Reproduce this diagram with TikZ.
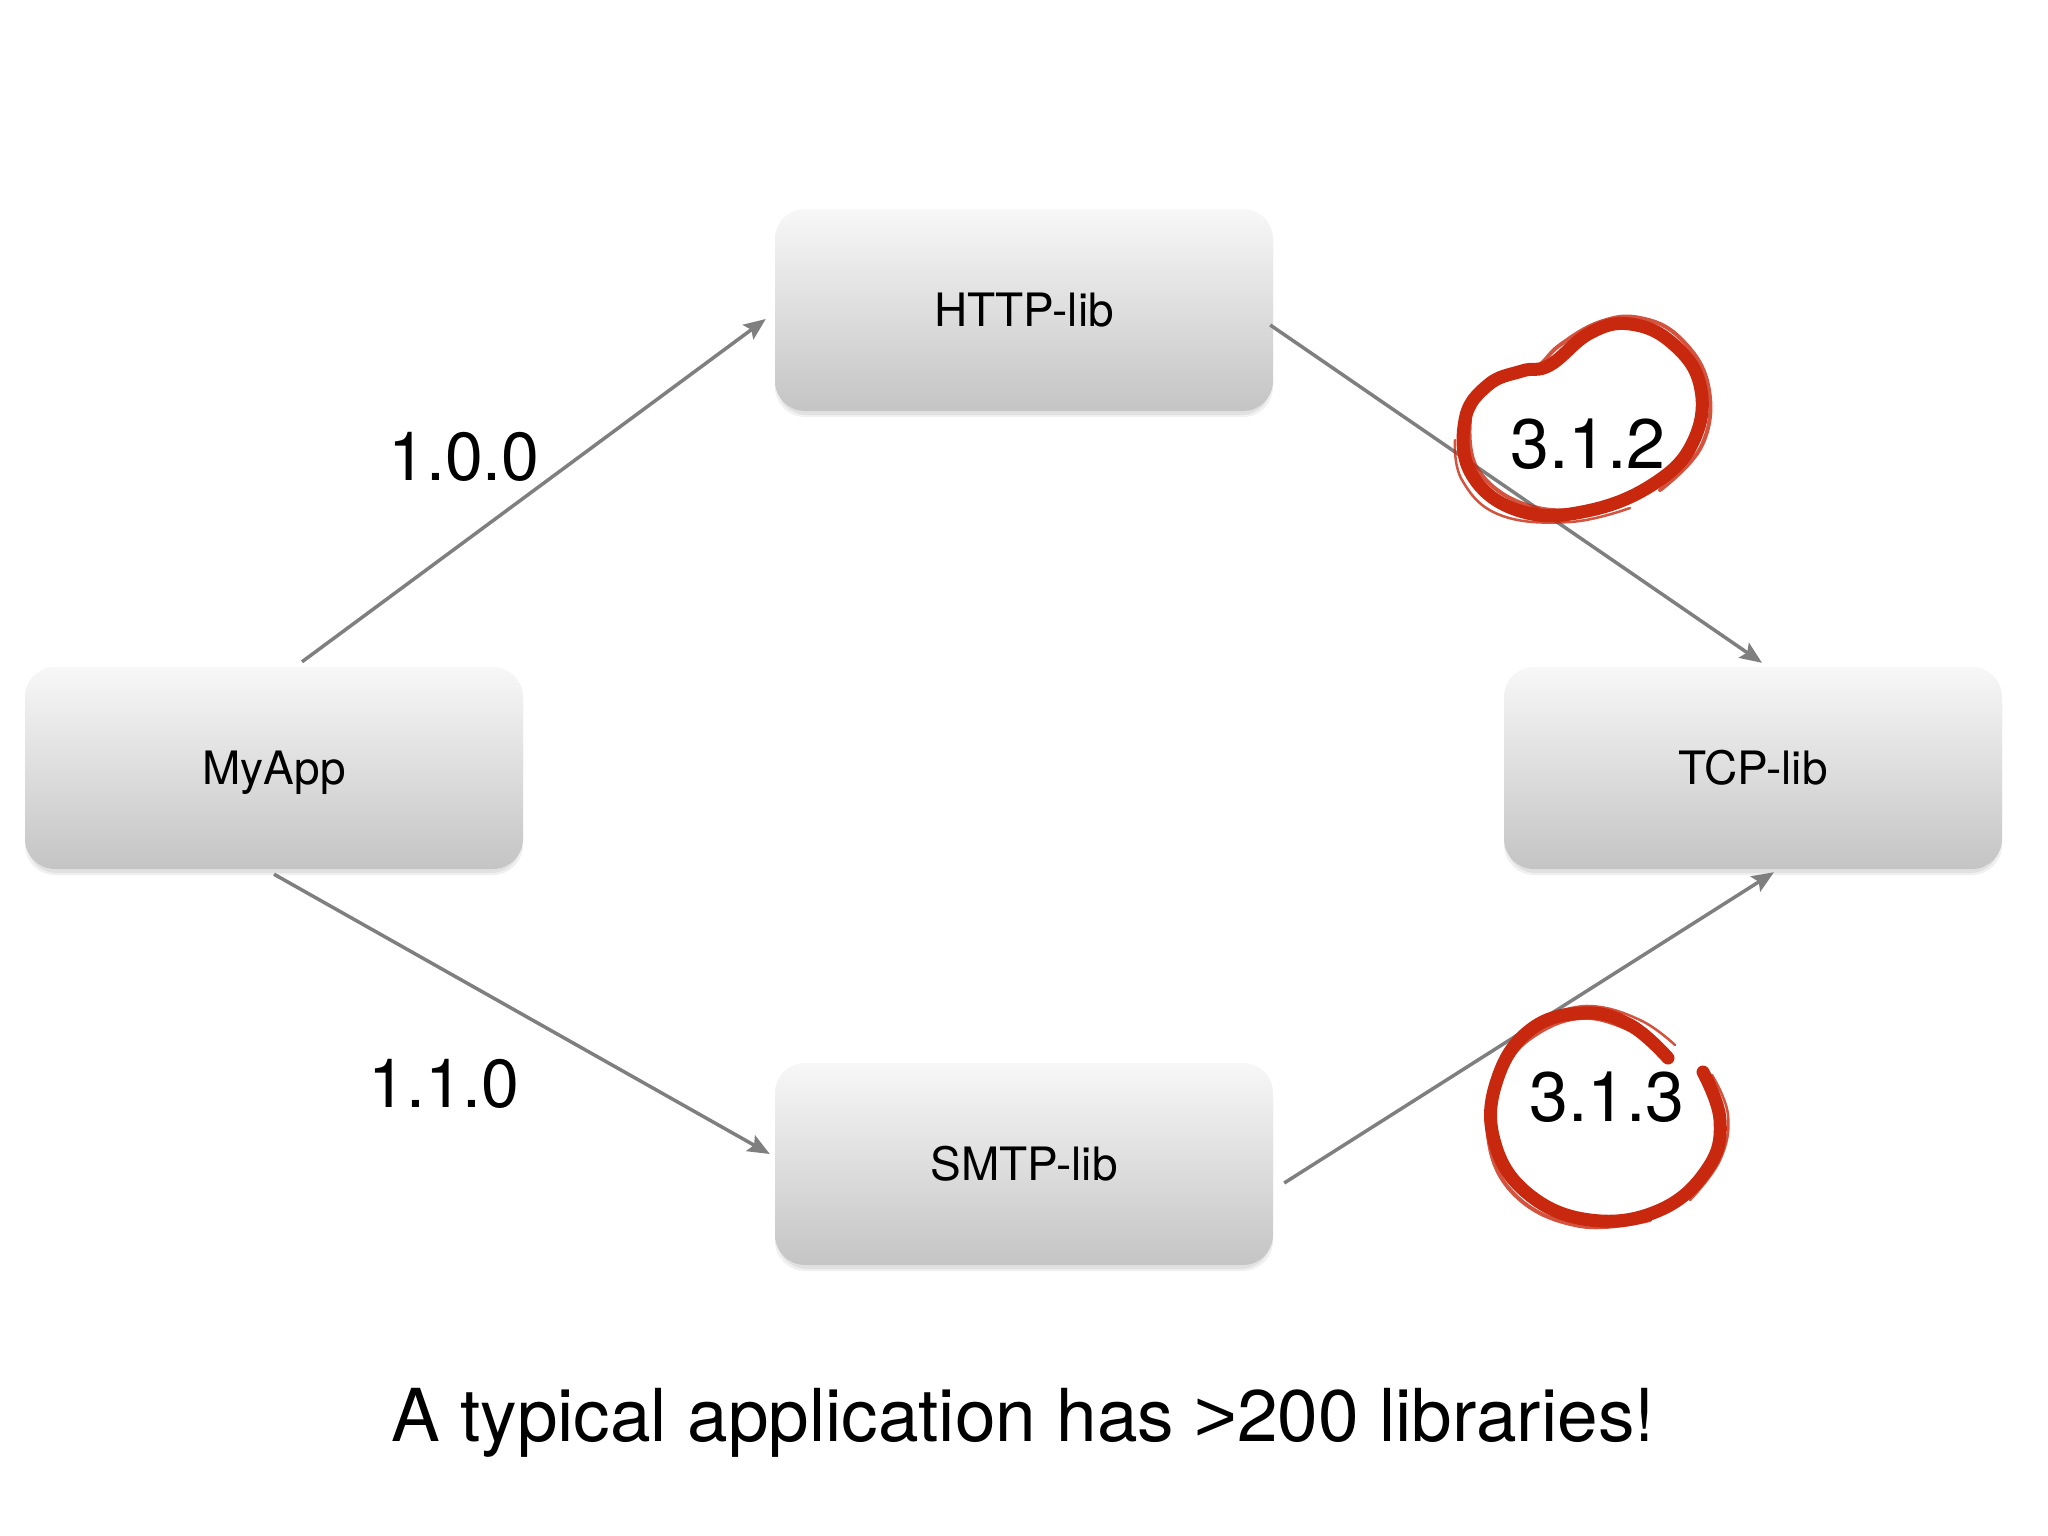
\documentclass[tikz,border=0pt]{standalone}
\usepackage{fontspec}
\setmainfont{TeX Gyre Heros}
\newfontfamily\gtfont{Liberation Sans}
\usetikzlibrary{arrows.meta}
\definecolor{brush}{HTML}{C8280E}
\definecolor{conn}{HTML}{7F7F7F}
\tikzset{
  libbox/.style={rectangle, rounded corners=30pt, minimum width=498pt, minimum height=202pt,
    top color=black!3, bottom color=black!23, draw=none, inner sep=0pt,
    text height=33pt, text depth=0pt,
    font=\fontsize{46}{55}\selectfont},
  boxshadow/.style={fill=black, opacity=0.06, rounded corners=30pt},
  conn/.style={draw=conn, line width=3.5pt, -{Stealth[length=22pt,width=18pt,inset=4pt]}},
  ver/.style={font=\fontsize{68}{80}\selectfont, inner sep=0pt},
  redver/.style={font=\fontsize{70}{82}\selectfont, inner sep=0pt},
  brushmain/.style={draw=brush, line width=13pt, line cap=round, line join=round},
  brushthin/.style={draw=brush, line width=4pt, line cap=round, opacity=0.8},
}
\begin{document}
\begin{tikzpicture}[x=1pt,y=-1pt]
\useasboundingbox[fill=white] (0,0) rectangle (2048,1536);
% shadows
\foreach \cx/\cy in {1024/310, 274/768, 1753/768, 1024/1164}{
  \fill[boxshadow] (\cx-249,\cy-97) rectangle (\cx+249,\cy+107);
  \fill[boxshadow] (\cx-247,\cy-97) rectangle (\cx+247,\cy+105);
}
\node[libbox] (http) at (1024,310) {HTTP-lib};
\node[libbox] (myapp) at (274,768) {MyApp};
\node[libbox] (tcp) at (1753,768) {TCP-lib};
\node[libbox] (smtp) at (1024,1164) {SMTP-lib};

\draw[conn] ([shift={(28,-5)}]myapp.north) -- ([shift={(-9,9)}]http.west);
\draw[conn] ([shift={(-3,15)}]http.east) -- ([shift={(9,-4)}]tcp.north);
\draw[conn] ([shift={(0,5)}]myapp.south) -- ([shift={(-5,-10)}]smtp.west);
\draw[conn] ([shift={(11,19)}]smtp.east) -- ([shift={(21,3)}]tcp.south);

\node[ver] (v100) at (464,457) {1.0.0};
\node[ver] (v110) at (444,1084) {1.1.0};

% red brush circles
\draw[brushmain] plot[smooth cycle, tension=0.7] coordinates {(1550,365) (1590,333) (1630,324) (1672,343) (1700,385) (1694,440) (1655,483) (1587,511) (1520,511) (1472,475) (1465,420) (1488,385) (1522,371)};
\draw[brushthin] plot[smooth, tension=0.7] coordinates {(1480,395) (1500,378) (1535,368) (1560,345) (1600,322) (1640,318) (1680,338) (1708,385) (1702,445) (1660,490)};
\draw[brushthin] plot[smooth, tension=0.7] coordinates {(1700,430) (1670,475) (1600,505) (1530,506) (1478,470) (1470,420)};
\draw[brushthin, line width=2.5pt] plot[smooth, tension=0.7] coordinates {(1455,440) (1462,480) (1500,515) (1570,522) (1630,508)};

\draw[brushmain] plot[smooth, tension=0.7] coordinates {(1668,1058) (1630,1025) (1583,1013) (1530,1030) (1497,1080) (1494,1140) (1527,1193) (1590,1220) (1660,1210) (1708,1168) (1720,1120) (1703,1072)};
\draw[brushthin] plot[smooth, tension=0.7] coordinates {(1650,1040) (1590,1018) (1535,1035) (1502,1075) (1488,1135) (1515,1195) (1580,1226) (1650,1220)};
\draw[brushthin, line width=2.5pt] plot[smooth, tension=0.7] coordinates {(1690,1200) (1720,1160) (1728,1115) (1712,1075)};
\draw[brushthin, line width=2.5pt] plot[smooth, tension=0.7] coordinates {(1675,1045) (1640,1020) (1590,1006) (1545,1016)};

\node[redver] (v312) at (1588,444) {3.1.2};
\node[redver] (v313) at (1607,1097) {3.1.3};

\node[font=\fontsize{73}{88}\selectfont, inner sep=0pt] (caption) at (1023,1423) {A typical application has {\gtfont >}200 libraries!};
\end{tikzpicture}
\end{document}
